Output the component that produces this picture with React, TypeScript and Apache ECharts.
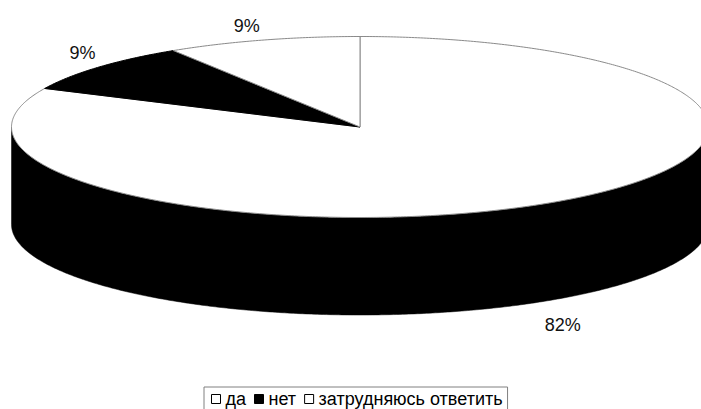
import React, { useEffect, useRef } from "react";
import * as echarts from "echarts";

const categories = ["да", "нет", "затрудняюсь ответить"];
const values = [82, 9, 9];
const topColors = ["#ffffff", "#000000", "#ffffff"];
const topStrokes = ["#8a8a8a", "#000000", "#8a8a8a"];

const CX = 360;
const CY = 127;
const RX = 348.5;
const RY = 90.5;
const DEPTH = 97.5;
const LABEL_DX = 16;
const LABEL_DY = 14;
const LABEL_DY_FRONT = 24;

function pt(tDeg: number, dy = 0): number[] {
  const t = (tDeg * Math.PI) / 180;
  return [CX + RX * Math.cos(t), CY - RY * Math.sin(t) + dy];
}

function arc(from: number, to: number, dy = 0): number[][] {
  const pts: number[][] = [];
  const n = Math.max(2, Math.ceil(Math.abs(to - from) / 0.5));
  for (let i = 0; i <= n; i++) {
    pts.push(pt(from + ((to - from) * i) / n, dy));
  }
  return pts;
}

export default function App() {
  const ref = useRef<HTMLDivElement>(null);
  useEffect(() => {
    if (!ref.current) return;
    const chart = echarts.init(ref.current, undefined, { renderer: "svg" });
    const total = values.reduce((a, b) => a + b, 0);

    const renderItem = (params: any, api: any) => {
      const idx = params.seriesIndex;
      const v = api.value(0);
      let before = 0;
      for (let i = 0; i < idx; i++) before += values[i];
      const hi = 90 - (360 * before) / total;
      const lo = 90 - (360 * (before + v)) / total;
      const children: any[] = [];
      // side faces (front half only)
      for (let k = -1; k <= 1; k++) {
        const s = Math.max(lo, -180 + 360 * k);
        const e = Math.min(hi, 360 * k);
        if (e > s) {
          const top = arc(s, e);
          const bottom = arc(e, s, DEPTH);
          children.push({
            type: "polygon",
            z2: 0,
            shape: { points: top.concat(bottom) },
            style: { fill: "#000000", stroke: "#000000", lineWidth: 0.5 },
          });
        }
      }
      // top face
      children.push({
        type: "polygon",
        z2: 10 + idx,
        shape: { points: [[CX, CY]].concat(arc(hi, lo)) },
        style: { fill: topColors[idx], stroke: topStrokes[idx], lineWidth: 1 },
      });
      // label
      const midDeg = (hi + lo) / 2;
      const mid = midDeg * (Math.PI / 180);
      const front = Math.sin(mid) < 0;
      const p = pt(midDeg, front ? DEPTH : 0);
      const lx = p[0] + Math.sign(Math.cos(mid)) * LABEL_DX;
      const ly = p[1] - Math.sign(Math.sin(mid)) * (front ? LABEL_DY_FRONT : LABEL_DY);
      children.push({
        type: "text",
        z2: 30,
        x: lx,
        y: ly,
        style: {
          text: Math.round((v / total) * 100) + "%",
          fill: "#111111",
          font: "18px 'Liberation Sans', Arial, sans-serif",
          align: "center",
          verticalAlign: "middle",
        },
      });
      return { type: "group", children };
    };

    chart.setOption({
      animation: false,
      legend: {
        left: 204,
        top: 387,
        orient: "horizontal",
        icon: "rect",
        itemWidth: 9,
        itemHeight: 9,
        itemGap: 8,
        padding: [3, 5, 5, 7],
        borderColor: "#808080",
        borderWidth: 1,
        selectedMode: false,
        textStyle: {
          fontSize: 18,
          lineHeight: 16,
          fontFamily: "'Liberation Sans', Arial, sans-serif",
          color: "#000000",
        },
        data: categories.map((name, i) => ({
          name,
          itemStyle: { color: topColors[i], borderColor: "#000000", borderWidth: 1 },
        })),
      },
      series: categories.map((name, i) => ({
        type: "custom",
        name,
        coordinateSystem: "none",
        itemStyle: { color: topColors[i], borderColor: "#000000", borderWidth: 1 },
        renderItem,
        data: [[values[i]]],
      })),
    });
    return () => chart.dispose();
  }, []);
  return (
    <div
      ref={ref}
      style={{ position: "fixed", left: 0, top: 0, width: 701, height: 409, background: "#ffffff" }}
    />
  );
}
